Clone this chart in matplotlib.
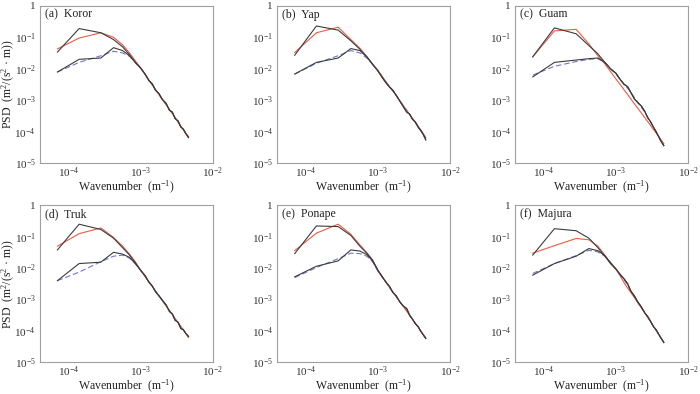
import math
import matplotlib
matplotlib.use("Agg")
import matplotlib.pyplot as plt
from matplotlib.ticker import FixedLocator, FuncFormatter, NullLocator

plt.rcParams['font.family'] = ['Liberation Serif', 'DejaVu Serif']
plt.rcParams['mathtext.fontset'] = 'custom'
plt.rcParams['mathtext.rm'] = 'Liberation Serif'
plt.rcParams['mathtext.it'] = 'Liberation Serif:italic'
plt.rcParams['mathtext.bf'] = 'Liberation Serif:bold'

STATIONS = ["Koror", "Yap", "Guam", "Truk", "Ponape", "Majura"]
TAGS = ["(a)", "(b)", "(c)", "(d)", "(e)", "(f)"]

# wavenumber grid (m^-1): large scales and the inertial tail
K_HEAD = [7.0e-5, 1.4e-4, 2.8e-4, 4.2e-4, 5.6e-4, 7.0e-4, 8.4e-4]
K_TAIL = [1.0e-3, 1.15e-3, 1.3e-3, 1.45e-3, 1.6e-3, 1.8e-3, 2.0e-3, 2.25e-3,
          2.5e-3, 2.75e-3, 3.0e-3, 3.3e-3, 3.6e-3, 3.9e-3, 4.2e-3, 4.6e-3]

# upper pair: observed (black) and fitted (red)
UPPER_OBS_HEAD = [
    [0.034, 0.19, 0.14, 0.085, 0.05, 0.028, 0.016],
    [0.027, 0.23, 0.17, 0.078, 0.042, 0.024, 0.014],
    [0.024, 0.20, 0.13, 0.055, 0.030, 0.016, 0.010],
    [0.038, 0.25, 0.17, 0.090, 0.045, 0.026, 0.015],
    [0.029, 0.22, 0.21, 0.11, 0.050, 0.030, 0.018],
    [0.026, 0.18, 0.155, 0.09, 0.045, 0.024, 0.014],
]
UPPER_FIT_HEAD = [
    [0.043, 0.095, 0.14, 0.10, 0.058, 0.032, 0.018],
    [0.033, 0.14, 0.21, 0.085, 0.045, 0.024, 0.014],
    [0.024, 0.16, 0.18, 0.062, 0.026, 0.0143, 0.0081],
    [0.050, 0.125, 0.19, 0.095, 0.050, 0.028, 0.016],
    [0.036, 0.13, 0.25, 0.12, 0.055, 0.031, 0.018],
    [0.030, 0.052, 0.088, 0.08, 0.050, 0.026, 0.014],
]
# lower pair: observed (black) and fitted (blue dashed)
LOWER_OBS_HEAD = [
    [0.0079, 0.020, 0.022, 0.047, 0.038, 0.026, 0.016],
    [0.0068, 0.016, 0.022, 0.044, 0.038, 0.024, 0.014],
    [0.0055, 0.016, 0.019, 0.021, 0.022, 0.016, 0.010],
    [0.0040, 0.014, 0.0155, 0.032, 0.028, 0.022, 0.014],
    [0.0053, 0.0115, 0.017, 0.038, 0.035, 0.027, 0.017],
    [0.0060, 0.014, 0.024, 0.042, 0.036, 0.025, 0.015],
]
LOWER_FIT_HEAD = [
    [0.0079, 0.016, 0.026, 0.036, 0.032, 0.025, 0.016],
    [0.0068, 0.015, 0.026, 0.038, 0.032, 0.022, 0.014],
    [0.0063, 0.012, 0.017, 0.020, 0.021, 0.016, 0.010],
    [0.0040, 0.0075, 0.016, 0.024, 0.026, 0.021, 0.014],
    [0.0050, 0.0105, 0.020, 0.030, 0.029, 0.024, 0.016],
    [0.0068, 0.014, 0.025, 0.037, 0.033, 0.024, 0.015],
]

OBS_TAIL = [
    [0.0105, 0.0068, 0.0042, 0.0033, 0.0021, 0.0016, 0.00105, 0.0008,
     0.00048, 0.00042, 0.00026, 0.00022, 0.00014, 0.00012, 0.000088, 0.000065],
    [0.0085, 0.0052, 0.0035, 0.0026, 0.0021, 0.0014, 0.00095, 0.00062,
     0.00042, 0.00036, 0.00025, 0.00020, 0.00014, 0.00011, 0.000085, 0.000055],
    [0.0072, 0.0045, 0.0032, 0.0027, 0.0018, 0.0011, 0.00085, 0.00065,
     0.00045, 0.00028, 0.00021, 0.00014, 0.0001, 0.00007, 0.00005, 0.000036],
    [0.0085, 0.0058, 0.0036, 0.0027, 0.0018, 0.0013, 0.00095, 0.00068,
     0.00042, 0.00035, 0.00022, 0.00019, 0.00012, 0.00011, 0.000085, 0.000068],
    [0.0085, 0.0053, 0.0035, 0.0026, 0.0017, 0.0013, 0.00085, 0.00062,
     0.00052, 0.00032, 0.00024, 0.00017, 0.00014, 0.0001, 0.000078, 0.000058],
    [0.0093, 0.0062, 0.0045, 0.0032, 0.0019, 0.0013, 0.00085, 0.00058,
     0.00038, 0.00029, 0.00021, 0.00014, 0.00011, 0.00008, 0.00006, 0.000043],
]
RED_TAIL = [
    [0.0105, 0.0066, 0.0044, 0.0030, 0.0022, 0.0015, 0.00105, 0.00072,
     0.00051, 0.00037, 0.00028, 0.00020, 0.00015, 0.000118, 0.000092, 0.00007],
    [0.0088, 0.0056, 0.0038, 0.0027, 0.0020, 0.0014, 0.00098, 0.00067,
     0.00048, 0.00035, 0.00027, 0.00020, 0.00015, 0.000115, 0.00009, 0.000066],
    [0.0047, 0.0031, 0.0021, 0.00151, 0.00111, 0.00077, 0.00056, 0.00039,
     0.00028, 0.00021, 0.00016, 0.000118, 0.000091, 0.000071, 0.000056, 0.000042],
    [0.0085, 0.0054, 0.0036, 0.0026, 0.0019, 0.0013, 0.00092, 0.00063,
     0.00045, 0.00033, 0.00025, 0.000186, 0.00014, 0.00011, 0.000086, 0.000062],
    [0.008, 0.0051, 0.0035, 0.0024, 0.0018, 0.0012, 0.00087, 0.0006,
     0.00043, 0.00031, 0.00024, 0.000175, 0.000133, 0.000103, 0.000081, 0.00006],
    [0.0093, 0.0055, 0.0034, 0.0023, 0.0017, 0.00115, 0.0008, 0.00054,
     0.00038, 0.00027, 0.0002, 0.000142, 0.000105, 0.00008, 0.000061, 0.000045],
]
BLUE_TAIL = [
    [0.0105, 0.0067, 0.0044, 0.0031, 0.0022, 0.0015, 0.00105, 0.00074,
     0.00051, 0.00038, 0.00028, 0.00020, 0.00015, 0.000118, 0.00009, 0.000068],
    [0.0088, 0.0055, 0.0037, 0.0027, 0.0020, 0.0014, 0.00097, 0.00066,
     0.00047, 0.00035, 0.00026, 0.00020, 0.00015, 0.000113, 0.000088, 0.000062],
    [0.0068, 0.0044, 0.0031, 0.0024, 0.0018, 0.0012, 0.00085, 0.0006,
     0.00042, 0.00029, 0.00021, 0.00014, 0.0001, 0.00007, 0.00005, 0.000036],
    [0.0085, 0.0055, 0.0036, 0.0026, 0.0019, 0.0013, 0.00093, 0.00064,
     0.00045, 0.00033, 0.00024, 0.000185, 0.00014, 0.00011, 0.000086, 0.000063],
    [0.008, 0.0051, 0.0035, 0.0024, 0.0018, 0.0012, 0.00087, 0.0006,
     0.00044, 0.00031, 0.00024, 0.000175, 0.000133, 0.000103, 0.00008, 0.000059],
    [0.0093, 0.006, 0.0042, 0.003, 0.0019, 0.0013, 0.00085, 0.00057,
     0.00039, 0.00028, 0.0002, 0.000142, 0.000105, 0.00008, 0.00006, 0.000044],
]

BLACK = '#3c3c3c'
RED = '#ee5a45'
BLUE = '#6f78c6'


def y_label(v, pos):
    if abs(v - 1) < 1e-9:
        return '1'
    return r'$10^{%d}$' % round(math.log10(v))


def x_label(v, pos):
    return r'$10^{%d}$' % round(math.log10(v))


fig = plt.figure(figsize=(7, 3.94), dpi=100)
lefts = [0.057, 0.396, 0.736]
bottoms = [0.586, 0.08]
width, height = 0.247, 0.399

k_all = K_HEAD + K_TAIL
for i, name in enumerate(STATIONS):
    row, col = divmod(i, 3)
    ax = fig.add_axes([lefts[col], bottoms[row], width, height])
    ax.set_xscale('log')
    ax.set_yscale('log')

    ax.plot(k_all, LOWER_FIT_HEAD[i] + BLUE_TAIL[i], color=BLUE, lw=0.8,
            dashes=(5, 2.5))
    ax.plot(k_all, UPPER_FIT_HEAD[i] + RED_TAIL[i], color=RED, lw=0.8)
    ax.plot(k_all, LOWER_OBS_HEAD[i] + OBS_TAIL[i], color=BLACK, lw=0.8)
    ax.plot(k_all, UPPER_OBS_HEAD[i] + OBS_TAIL[i], color=BLACK, lw=0.8)

    ax.set_xlim(4e-5, 1e-2)
    ax.set_ylim(1e-5, 1)
    ax.xaxis.set_major_locator(FixedLocator([1e-4, 1e-3, 1e-2]))
    ax.yaxis.set_major_locator(FixedLocator([1e-5, 1e-4, 1e-3, 1e-2, 1e-1, 1]))
    ax.xaxis.set_minor_locator(NullLocator())
    ax.yaxis.set_minor_locator(NullLocator())
    ax.xaxis.set_major_formatter(FuncFormatter(x_label))
    ax.yaxis.set_major_formatter(FuncFormatter(y_label))
    ax.tick_params(length=0, labelsize=8, pad=3, colors='#333333')
    ax.tick_params(axis='x', pad=1.5)
    for s in ax.spines.values():
        s.set_color('#a0a0a0')
        s.set_linewidth(0.8)

    ax.text(0.03, 0.945, TAGS[i] + '  ' + name, transform=ax.transAxes,
            ha='left', va='center', fontsize=8.5, color='#222222')
    ax.set_xlabel('Wavenumber  (m$^{-1}$)', fontsize=8.5, labelpad=-0.5,
                  color='#222222')
    if col == 0:
        ax.set_ylabel('PSD  (m$^{2}$/(s$^{2}$ · m))', fontsize=8.5,
                      color='#222222')
        ax.yaxis.set_label_coords(-0.135, 0.5)

fig.savefig('out.png', dpi=100)
